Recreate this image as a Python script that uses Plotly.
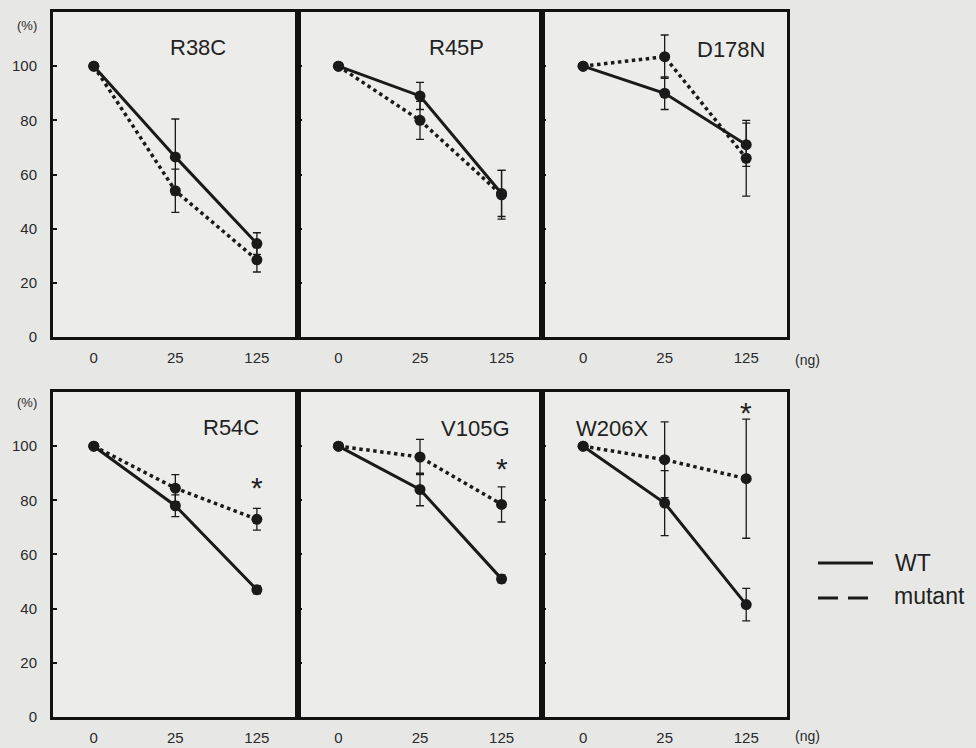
import plotly.graph_objects as go

# ---------------- data ----------------
doses = ["0", "25", "125"]
panel_names = ["R38C", "R45P", "D178N", "R54C", "V105G", "W206X"]

wt_r38c = [100, 66.5, 34.5]
wt_r38c_err = [0, 14, 4]
mut_r38c = [100, 54, 28.5]
mut_r38c_err = [0, 8, 4.5]

wt_r45p = [100, 89, 53]
wt_r45p_err = [0, 5, 8.5]
mut_r45p = [100, 80, 52.5]
mut_r45p_err = [0, 7, 9]

wt_d178n = [100, 90, 71]
wt_d178n_err = [0, 6, 8]
mut_d178n = [100, 103.5, 66]
mut_d178n_err = [0, 8, 14]

wt_r54c = [100, 78, 47]
wt_r54c_err = [0, 4, 1.5]
mut_r54c = [100, 84.5, 73]
mut_r54c_err = [0, 5, 4]

wt_v105g = [100, 84, 51]
wt_v105g_err = [0, 6, 1.5]
mut_v105g = [100, 96, 78.5]
mut_v105g_err = [0, 6.5, 6.5]

wt_w206x = [100, 79, 41.5]
wt_w206x_err = [0, 12, 6]
mut_w206x = [100, 95, 88]
mut_w206x_err = [0, 14, 22]

# significance markers (panel, dose, height)
sig_panels = ["R54C", "V105G", "W206X"]
sig_dose = ["125", "125", "125"]
sig_y = [87.5, 94.5, 115]

y_ticks = [0, 20, 40, 60, 80, 100]

wt_all = [wt_r38c, wt_r45p, wt_d178n, wt_r54c, wt_v105g, wt_w206x]
wt_err_all = [wt_r38c_err, wt_r45p_err, wt_d178n_err, wt_r54c_err, wt_v105g_err, wt_w206x_err]
mut_all = [mut_r38c, mut_r45p, mut_d178n, mut_r54c, mut_v105g, mut_w206x]
mut_err_all = [mut_r38c_err, mut_r45p_err, mut_d178n_err, mut_r54c_err, mut_v105g_err, mut_w206x_err]

# ---------------- layout geometry ----------------
W, H = 976, 748
ML, MR, MT, MB = 53, 189, 12, 31
x_domains = [[0, 1 / 3], [1 / 3, 2 / 3], [2 / 3, 1]]
y_domains = [[0.539, 1.0], [0.0, 0.461]]

# title positions within each panel (axis-domain fractions)
title_x = [0.593, 0.651, 0.771, 0.727, 0.725, 0.285]
title_y = [0.89, 0.89, 0.885, 0.892, 0.889, 0.889]

FONT = "Liberation Sans, Arial, Helvetica, sans-serif"
INK = "#1a1a1a"
BG = "#e7e8e6"

fig = go.Figure()
layout = dict(
    width=W, height=H,
    margin=dict(l=ML, r=MR, t=MT, b=MB, autoexpand=False),
    paper_bgcolor=BG,
    plot_bgcolor="#ecedeb",
    showlegend=False,
    font=dict(family=FONT, color=INK),
)

annotations = []
for i, name in enumerate(panel_names):
    n = i + 1
    sfx = "" if n == 1 else str(n)
    row, col = divmod(i, 3)
    xa, ya = "x" + sfx, "y" + sfx

    # WT (solid)
    fig.add_trace(go.Scatter(
        x=doses, y=wt_all[i], xaxis=xa, yaxis=ya, mode="lines+markers",
        line=dict(color=INK, width=3, dash="solid"),
        marker=dict(color=INK, size=11),
        error_y=dict(type="data", array=wt_err_all[i], visible=True,
                     color=INK, thickness=1.3, width=4),
        name="WT",
    ))
    # mutant (dotted)
    fig.add_trace(go.Scatter(
        x=doses, y=mut_all[i], xaxis=xa, yaxis=ya, mode="lines+markers",
        line=dict(color=INK, width=3.5, dash="dot"),
        marker=dict(color=INK, size=11),
        error_y=dict(type="data", array=mut_err_all[i], visible=True,
                     color=INK, thickness=1.3, width=4),
        name="mutant",
    ))

    layout["xaxis" + sfx] = dict(
        domain=x_domains[col], anchor=ya, type="category",
        categoryorder="array", categoryarray=doses,
        range=[-0.5, 2.5], showgrid=False, zeroline=False, automargin=False,
        showline=True, mirror=True, linecolor="#111111", linewidth=3,
        ticks="", tickfont=dict(size=15, family=FONT, color="#2a2a2a"),
        ticklabelstandoff=5, fixedrange=True,
    )
    layout["yaxis" + sfx] = dict(
        domain=y_domains[row], anchor=xa, range=[0, 120],
        tickvals=y_ticks, showgrid=False, zeroline=False, automargin=False,
        showline=True, mirror=True, linecolor="#111111", linewidth=3,
        ticks="inside", ticklen=4, tickwidth=2, tickcolor="#111111",
        showticklabels=(col == 0),
        tickfont=dict(size=15, family=FONT, color="#2a2a2a"),
        ticklabelstandoff=10, fixedrange=True,
    )

    annotations.append(dict(
        text=name, xref=xa + " domain", yref=ya + " domain",
        x=title_x[i], y=title_y[i], xanchor="center", yanchor="middle",
        showarrow=False, font=dict(size=22, family=FONT, color="#222222"),
    ))

    if name in sig_panels:
        k = sig_panels.index(name)
        annotations.append(dict(
            text="*", xref=xa, yref=ya, x=doses.index(sig_dose[k]), y=sig_y[k],
            xanchor="center", yanchor="middle", yshift=-7,
            showarrow=False, font=dict(size=30, family=FONT, color="#222222"),
        ))

pw = W - ML - MR
ph = H - MT - MB
def px_x(v):
    return (v - ML) / pw
def px_y(v):
    return (H - MB - v) / ph

# "(%)" unit labels
for ypx in [25, 402]:
    annotations.append(dict(
        text="(%)", xref="paper", yref="paper", x=px_x(27), y=px_y(ypx),
        xanchor="center", yanchor="middle", showarrow=False,
        font=dict(size=13, family=FONT, color="#2a2a2a"),
    ))
# "(ng)" unit labels
for ypx in [360, 736]:
    annotations.append(dict(
        text="(ng)", xref="paper", yref="paper", x=px_x(807), y=px_y(ypx),
        xanchor="center", yanchor="middle", showarrow=False,
        font=dict(size=14, family=FONT, color="#2a2a2a"),
    ))

# legend key (drawn as decoration to the right of the panels)
shapes = [
    dict(type="line", xref="paper", yref="paper",
         x0=px_x(818), x1=px_x(873), y0=px_y(563), y1=px_y(563),
         line=dict(color=INK, width=3)),
    dict(type="line", xref="paper", yref="paper",
         x0=px_x(818), x1=px_x(873), y0=px_y(598), y1=px_y(598),
         line=dict(color=INK, width=3, dash="20px,10px")),
]
annotations.append(dict(text="WT", xref="paper", yref="paper",
                        x=px_x(893), y=px_y(563), xanchor="left", yanchor="middle",
                        showarrow=False, font=dict(size=23, family=FONT, color="#222222")))
annotations.append(dict(text="mutant", xref="paper", yref="paper",
                        x=px_x(892), y=px_y(596), xanchor="left", yanchor="middle",
                        showarrow=False, font=dict(size=23, family=FONT, color="#222222")))

layout["annotations"] = annotations
layout["shapes"] = shapes
fig.update_layout(**layout)

fig.write_html(
    "out.html",
    config={"displayModeBar": False},
    post_script="document.body.style.margin='0px';"
                "document.body.style.overflow='hidden';"
                "document.body.style.background='" + BG + "';",
)
